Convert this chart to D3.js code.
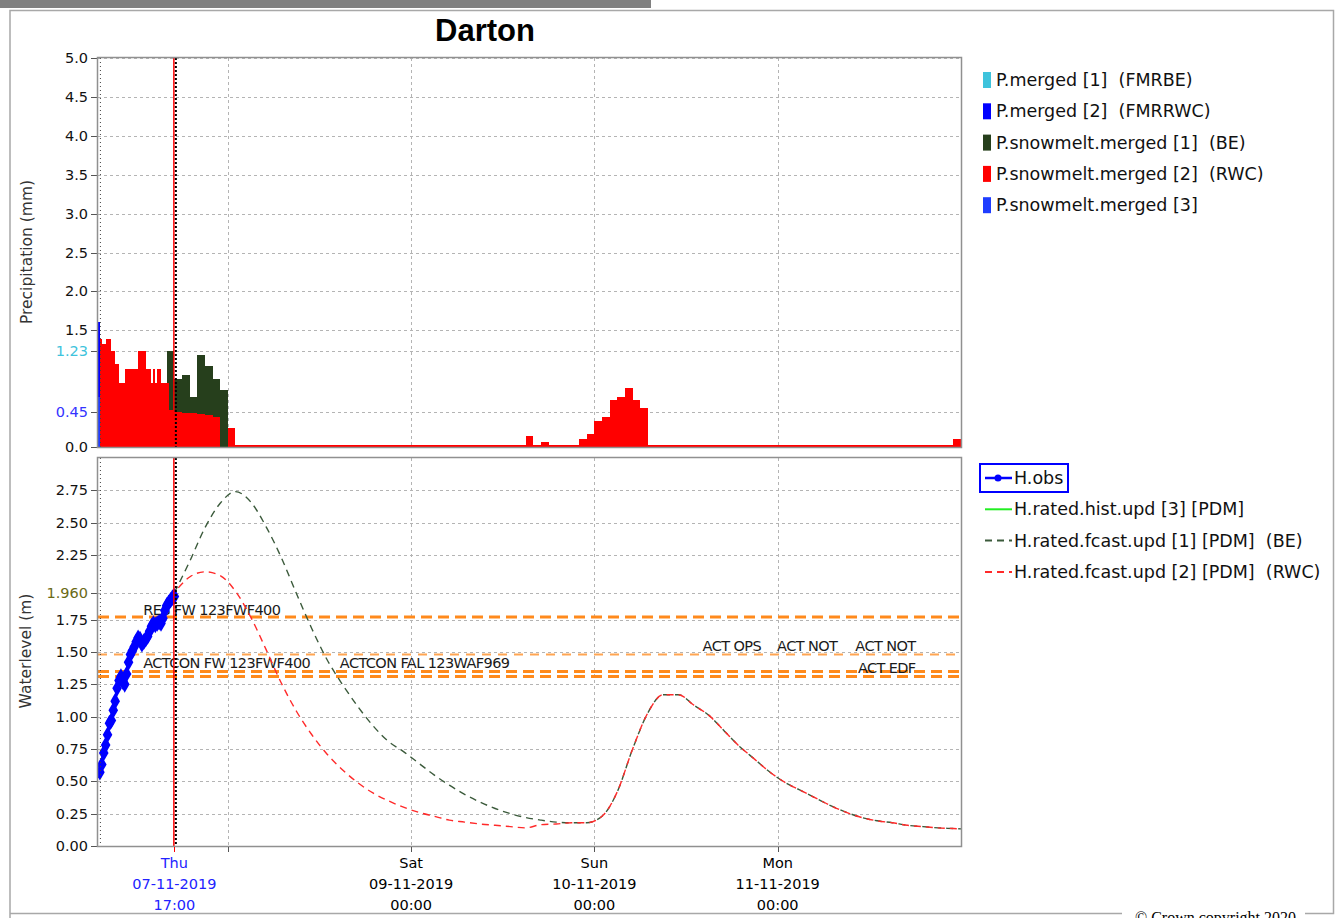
<!DOCTYPE html>
<html>
<head>
<meta charset="utf-8">
<script src="https://cdn.jsdelivr.net/npm/d3@7"></script>
<style>
body { margin: 0; background: #fff; }
svg text { font-family: "DejaVu Sans", sans-serif; white-space: pre; }
</style>
</head>
<body>
<svg id="chart" width="1336" height="918"></svg>
<script>

var startTime = new Date(2019, 10, 7, 7, 0);
var endTime = new Date(2019, 10, 12, 0, 0);
var forecastTime = new Date(2019, 10, 7, 17, 0);

// precipitation (mm), observed part in 15 minute steps from 07:00
var rwcObs = [0, 1.39, 1.33, 1.33, 1.39, 1.39, 1.39, 1.23, 1.23, 1.07,
    1.07, 0.82, 0.82, 0.82, 1.0, 1.0, 1.0, 1.0, 1.0, 1.0,
    1.0, 1.23, 1.23, 1.23, 1.23, 1.0, 1.0, 1.0, 0.82, 1.0,
    0.82, 1.0, 1.0, 0.82, 0.82, 0.82, 0.82, 0.47, 0.47, 0.47];
var merged2Obs = [1.61];
var snow3Obs = [0.64];

// forecast precipitation, hourly
var beHourly = [1.23, 0.87, 0.92, 0.64, 1.18, 1.04, 0.87, 0.73];   // from 16:00 Thu
var rwcHourly = [0.45, 0.44, 0.44, 0.43, 0.41, 0.39, 0, 0.24,      // from 17:00 Thu
    0.02, 0.02, 0.02, 0.02, 0.02, 0.02, 0.02, 0.02, 0.02, 0.02,
    0.02, 0.02, 0.02, 0.02, 0.02, 0.02, 0.02, 0.02, 0.02, 0.02,
    0.02, 0.02, 0.02, 0.02, 0.02, 0.02, 0.02, 0.02, 0.02, 0.02,
    0.02, 0.02, 0.02, 0.02, 0.02, 0.02, 0.02, 0.02,
    0.14, 0.02, 0.06, 0.02, 0.02, 0.02, 0.02,
    0.10, 0.17, 0.33, 0.38, 0.61, 0.64, 0.76, 0.61, 0.50,
    0.02, 0.02, 0.02, 0.02, 0.02, 0.02, 0.02, 0.02, 0.02, 0.02,
    0.02, 0.02, 0.02, 0.02, 0.02, 0.02, 0.02, 0.02, 0.02, 0.02,
    0.02, 0.02, 0.02, 0.02, 0.02, 0.02, 0.02, 0.02, 0.02, 0.02,
    0.02, 0.02, 0.02, 0.02, 0.02, 0.02, 0.02, 0.02, 0.02, 0.02,
    0.10];

// observed water level (m), 15 minute steps from 07:15
var hObs = [0.57, 0.63, 0.72, 0.78, 0.86, 0.95, 0.97, 1.05, 1.12, 1.22,
    1.28, 1.31, 1.27, 1.25, 1.33, 1.42, 1.48, 1.51, 1.54, 1.58,
    1.61, 1.60, 1.56, 1.58, 1.60, 1.62, 1.66, 1.70, 1.72, 1.71,
    1.72, 1.73, 1.72, 1.76, 1.82, 1.86, 1.88, 1.90, 1.92, 1.93];

// forecast water level, every 2 hours from 17:00 Thu
var hBE = [1.96, 2.20, 2.46, 2.65, 2.74, 2.66, 2.47, 2.23, 1.95, 1.68,
    1.44, 1.25, 1.08, 0.93, 0.81, 0.73, 0.64, 0.55, 0.47, 0.40,
    0.34, 0.29, 0.25, 0.22, 0.20, 0.185, 0.18, 0.18, 0.23, 0.42,
    0.75, 1.03, 1.17, 1.17, 1.09, 1.01, 0.89, 0.77, 0.67, 0.57,
    0.49, 0.43, 0.37, 0.31, 0.26, 0.22, 0.195, 0.18, 0.16, 0.15,
    0.14, 0.135, 0.13];
var hRWC = [1.96, 2.08, 2.12, 2.09, 1.97, 1.77, 1.52, 1.26, 1.04, 0.86,
    0.71, 0.59, 0.49, 0.41, 0.35, 0.30, 0.26, 0.23, 0.20, 0.185,
    0.17, 0.16, 0.15, 0.14, 0.165, 0.17, 0.18, 0.18, 0.23, 0.42,
    0.75, 1.03, 1.17, 1.17, 1.09, 1.01, 0.89, 0.77, 0.67, 0.57,
    0.49, 0.43, 0.37, 0.31, 0.26, 0.22, 0.195, 0.18, 0.16, 0.15,
    0.14, 0.135, 0.13];

// thresholds
var thresholds = [
    {value: 1.77, heavy: true},
    {value: 1.48, heavy: false},
    {value: 1.35, heavy: true},
    {value: 1.31, heavy: true}
];
var thresholdLabels = [
    {text: "RES FW 123FWF400", at: new Date(2019, 10, 7, 12, 55), value: 1.785},
    {text: "ACTCON FW 123FWF400", at: new Date(2019, 10, 7, 12, 55), value: 1.38},
    {text: "ACTCON FAL 123WAF969", at: new Date(2019, 10, 8, 14, 40), value: 1.38},
    {text: "ACT OPS", at: new Date(2019, 10, 10, 14, 10), value: 1.505},
    {text: "ACT NOT", at: new Date(2019, 10, 10, 23, 55), value: 1.505},
    {text: "ACT NOT", at: new Date(2019, 10, 11, 10, 10), value: 1.505},
    {text: "ACT EDF", at: new Date(2019, 10, 11, 10, 30), value: 1.335}
];

var precipTicks = [0, 1.5, 2.0, 2.5, 3.0, 3.5, 4.0, 4.5, 5.0];
var precipMarks = [{v: 1.23, c: "#3ec3dc"}, {v: 0.45, c: "#3333ff"}];
var levelTicks = [0, 0.25, 0.5, 0.75, 1.0, 1.25, 1.5, 1.75, 2.25, 2.5, 2.75];
var levelMark = 1.96;

var dayLines = [new Date(2019, 10, 8), new Date(2019, 10, 9), new Date(2019, 10, 10), new Date(2019, 10, 11)];
var dayLabels = [
    {t: forecastTime, lines: ["Thu", "07-11-2019", "17:00"], color: "#2222ff"},
    {t: new Date(2019, 10, 9), lines: ["Sat", "09-11-2019", "00:00"], color: "#000"},
    {t: new Date(2019, 10, 10), lines: ["Sun", "10-11-2019", "00:00"], color: "#000"},
    {t: new Date(2019, 10, 11), lines: ["Mon", "11-11-2019", "00:00"], color: "#000"}
];

var precipLegend = [
    {name: "P.merged [1]  (FMRBE)", color: "#3ec3dc"},
    {name: "P.merged [2]  (FMRRWC)", color: "#0000ff"},
    {name: "P.snowmelt.merged [1]  (BE)", color: "#263f1c"},
    {name: "P.snowmelt.merged [2]  (RWC)", color: "#ff0000"},
    {name: "P.snowmelt.merged [3]", color: "#1f3dff"}
];
var levelLegend = [
    {name: "H.obs", color: "#0000ff", dash: null, marker: true},
    {name: "H.rated.hist.upd [3] [PDM]", color: "#22ee22", dash: null},
    {name: "H.rated.fcast.upd [1] [PDM]  (BE)", color: "#3b5a3b", dash: "7,5"},
    {name: "H.rated.fcast.upd [2] [PDM]  (RWC)", color: "#ff2a2a", dash: "7,5"}
];

function addMinutes(d, m) { return new Date(d.getTime() + m * 60000); }

var svg = d3.select("#chart");
var left = 98, right = 961;

var x = d3.scaleTime().domain([startTime, endTime]).range([left, right]);
var yP = d3.scaleLinear().domain([0, 5]).range([447, 58]);
var yH = d3.scaleLinear().domain([0, 3]).range([846, 458]);

// window frame
svg.append("rect").attr("x", 0).attr("y", 0).attr("width", 651).attr("height", 8).attr("fill", "#808080");
svg.append("path")
    .attr("d", "M10,918 L10,10.5 L1333.5,10.5 L1333.5,913.5 L1305,913.5 M1122,913.5 L10,913.5")
    .attr("fill", "none").attr("stroke", "#a8a8a8").attr("stroke-width", 1.5);

// title
svg.append("text").attr("x", 485).attr("y", 41).attr("text-anchor", "middle")
    .style("font-family", "'Liberation Sans', Arial, sans-serif")
    .style("font-weight", "bold").style("font-size", "31px").text("Darton");

svg.append("defs").selectAll("clipPath")
    .data([["clipP", yP], ["clipH", yH]])
    .enter().append("clipPath").attr("id", function (d) { return d[0]; })
    .append("rect")
    .attr("x", left).attr("width", right - left)
    .attr("y", function (d) { return d[1].range()[1]; })
    .attr("height", function (d) { return d[1].range()[0] - d[1].range()[1]; });

function drawPanel(yScale, ticks, fmt) {
    var g = svg.append("g");
    var y0 = yScale.range()[0], y1 = yScale.range()[1];

    g.selectAll(".hgrid").data(ticks).enter().append("line")
        .attr("x1", left).attr("x2", right)
        .attr("y1", function (d) { return Math.round(yScale(d)) + 0.5; })
        .attr("y2", function (d) { return Math.round(yScale(d)) + 0.5; })
        .attr("stroke", "#b4b4b4").attr("stroke-dasharray", "3,3");

    g.selectAll(".vgrid").data(dayLines).enter().append("line")
        .attr("x1", function (d) { return Math.round(x(d)) + 0.5; })
        .attr("x2", function (d) { return Math.round(x(d)) + 0.5; })
        .attr("y1", y1).attr("y2", y0)
        .attr("stroke", "#b4b4b4").attr("stroke-dasharray", "3,3");

    g.selectAll(".tick").data(ticks).enter().append("line")
        .attr("x1", left - 7).attr("x2", left)
        .attr("y1", function (d) { return Math.round(yScale(d)) + 0.5; })
        .attr("y2", function (d) { return Math.round(yScale(d)) + 0.5; })
        .attr("stroke", "#555");

    g.selectAll(".tlabel").data(ticks).enter().append("text")
        .attr("x", left - 10)
        .attr("y", function (d) { return yScale(d) + 5; })
        .attr("text-anchor", "end").style("font-size", "14.5px").attr("fill", "#111")
        .text(function (d) {
            if (d.color) return d.v.toFixed(d.digits);
            return d3.format(fmt)(d);
        });
    return g;
}

function drawFrame(yScale) {
    var y0 = yScale.range()[0], y1 = yScale.range()[1];
    // first data line, dotted
    svg.append("line")
        .attr("x1", x(addMinutes(startTime, 15)) + 0.5).attr("x2", x(addMinutes(startTime, 15)) + 0.5)
        .attr("y1", y1).attr("y2", y0)
        .attr("stroke", "#444").attr("stroke-dasharray", "1,3");
    // forecast time
    svg.append("line")
        .attr("x1", x(forecastTime) - 0.5).attr("x2", x(forecastTime) - 0.5)
        .attr("y1", y1).attr("y2", y0)
        .attr("stroke", "#ff0000").attr("stroke-width", 1.5);
    svg.append("line")
        .attr("x1", x(forecastTime) + 1.5).attr("x2", x(forecastTime) + 1.5)
        .attr("y1", y1).attr("y2", y0)
        .attr("stroke", "#000").attr("stroke-width", 2).attr("stroke-dasharray", "2,2");
    svg.append("rect")
        .attr("x", left - 0.5).attr("y", y1 - 0.5)
        .attr("width", right - left + 1).attr("height", y0 - y1 + 1)
        .attr("fill", "none").attr("stroke", "#909090").attr("stroke-width", 1.5);
}

function markTick(yScale, v, color, digits) {
    var yy = Math.round(yScale(v)) + 0.5;
    svg.append("line").attr("x1", left).attr("x2", right).attr("y1", yy).attr("y2", yy)
        .attr("stroke", "#b4b4b4").attr("stroke-dasharray", "3,3");
    svg.append("line").attr("x1", left - 7).attr("x2", left).attr("y1", yy).attr("y2", yy)
        .attr("stroke", "#555");
    svg.append("text").attr("x", left - 10).attr("y", yScale(v) + 5)
        .attr("text-anchor", "end").style("font-size", "14.5px").attr("fill", color)
        .text(v.toFixed(digits));
}

// ---------- precipitation panel ----------
drawPanel(yP, precipTicks, ".1f");
precipMarks.forEach(function (m) { markTick(yP, m.v, m.c, 2); });

var gP = svg.append("g").attr("clip-path", "url(#clipP)");

var beBars = beHourly.map(function (v, i) {
    return {t: addMinutes(forecastTime, (i - 1) * 60), len: 60, v: v};
});
var rwcBars = rwcObs.map(function (v, i) {
    return {t: addMinutes(startTime, i * 15), len: 15, v: v};
}).concat(rwcHourly.map(function (v, i) {
    return {t: addMinutes(forecastTime, i * 60), len: 60, v: v};
}));

function bars(data, color) {
    gP.selectAll(null).data(data.filter(function (d) { return d.v > 0; })).enter().append("rect")
        .attr("x", function (d) { return x(d.t); })
        .attr("width", function (d) { return x(addMinutes(d.t, d.len)) - x(d.t); })
        .attr("y", function (d) { return yP(d.v); })
        .attr("height", function (d) { return yP(0) - yP(d.v); })
        .attr("fill", color).attr("shape-rendering", "crispEdges");
}
bars(beBars, "#263f1c");
bars(rwcBars, "#ff0000");
bars(merged2Obs.map(function (v, i) { return {t: addMinutes(startTime, i * 15), len: 12, v: v}; }), "#0000ff");
bars(snow3Obs.map(function (v, i) { return {t: addMinutes(startTime, i * 15), len: 12, v: v}; }), "#1f3dff");

drawFrame(yP);

svg.append("text").attr("transform", "translate(32,252) rotate(-90)")
    .attr("text-anchor", "middle").style("font-size", "15.5px").attr("fill", "#333")
    .text("Precipitation (mm)");

// ---------- water level panel ----------
drawPanel(yH, levelTicks, ".2f");
markTick(yH, levelMark, "#6a6a16", 3);

var gH = svg.append("g").attr("clip-path", "url(#clipH)");

gH.selectAll(".thr").data(thresholds).enter().append("line")
    .attr("x1", left).attr("x2", right)
    .attr("y1", function (d) { return yH(d.value); })
    .attr("y2", function (d) { return yH(d.value); })
    .attr("stroke", function (d) { return d.heavy ? "#ff8a1c" : "#ffa552"; })
    .attr("stroke-width", function (d) { return d.heavy ? 3 : 2; })
    .attr("stroke-dasharray", function (d) { return d.heavy ? "11,6" : "9,7"; });

gH.selectAll(".thrLabel").data(thresholdLabels).enter().append("text")
    .attr("x", function (d) { return x(d.at); })
    .attr("y", function (d) { return yH(d.value); })
    .style("font-size", "14.5px").style("letter-spacing", "-0.6px").attr("fill", "#1a1a1a")
    .text(function (d) { return d.text; });

var fcPoints = function (vals) {
    return vals.map(function (v, i) { return {t: addMinutes(forecastTime, i * 120), v: v}; });
};
var line = d3.line()
    .x(function (d) { return x(d.t); })
    .y(function (d) { return yH(d.v); })
    .curve(d3.curveMonotoneX);

gH.append("path").datum(fcPoints(hBE)).attr("d", line)
    .attr("fill", "none").attr("stroke", "#3b5a3b").attr("stroke-width", 1.4)
    .attr("stroke-dasharray", "7,5");
gH.append("path").datum(fcPoints(hRWC)).attr("d", line)
    .attr("fill", "none").attr("stroke", "#ff2a2a").attr("stroke-width", 1.4)
    .attr("stroke-dasharray", "7,5").attr("stroke-dashoffset", 6);

var obsPts = hObs.map(function (v, i) { return {t: addMinutes(startTime, (i + 1) * 15), v: v}; });
gH.append("path").datum(obsPts)
    .attr("d", d3.line().x(function (d) { return x(d.t); }).y(function (d) { return yH(d.v); }))
    .attr("fill", "none").attr("stroke", "#0000ff").attr("stroke-width", 2.5);
gH.selectAll(".obs").data(obsPts).enter().append("path")
    .attr("transform", function (d) { return "translate(" + x(d.t) + "," + yH(d.v) + ")"; })
    .attr("d", d3.symbol().type(d3.symbolDiamond).size(80))
    .attr("fill", "#0000ff");

drawFrame(yH);

svg.append("text").attr("transform", "translate(31,651) rotate(-90)")
    .attr("text-anchor", "middle").style("font-size", "15.5px").attr("fill", "#333")
    .text("Waterlevel (m)");

// x axis
svg.selectAll(".xtick").data(dayLines.concat([forecastTime])).enter().append("line")
    .attr("x1", function (d) { return Math.round(x(d)) + 0.5; })
    .attr("x2", function (d) { return Math.round(x(d)) + 0.5; })
    .attr("y1", 847).attr("y2", 852)
    .attr("stroke", function (d) { return d === forecastTime ? "#ff0000" : "#555"; });

var xl = svg.selectAll(".xlab").data(dayLabels).enter().append("text")
    .attr("text-anchor", "middle").style("font-size", "14.5px")
    .attr("fill", function (d) { return d.color; });
xl.selectAll("tspan").data(function (d) {
    return d.lines.map(function (s, i) { return {s: s, i: i, t: d.t}; });
}).enter().append("tspan")
    .attr("x", function (d) { return x(d.t); })
    .attr("y", function (d) { return 868 + d.i * 21; })
    .text(function (d) { return d.s; });

// legends
var lp = svg.selectAll(".lp").data(precipLegend).enter().append("g")
    .attr("transform", function (d, i) { return "translate(983," + (80 + i * 31.3) + ")"; });
lp.append("rect").attr("x", 0).attr("y", -8).attr("width", 8).attr("height", 16)
    .attr("fill", function (d) { return d.color; });
lp.append("text").attr("x", 13).attr("y", 6).style("font-size", "17.5px").attr("fill", "#111")
    .text(function (d) { return d.name; });

svg.append("rect").attr("x", 980).attr("y", 464).attr("width", 88).attr("height", 28)
    .attr("fill", "none").attr("stroke", "#0000ff").attr("stroke-width", 2);
var lh = svg.selectAll(".lh").data(levelLegend).enter().append("g")
    .attr("transform", function (d, i) { return "translate(985," + (478 + i * 31.3) + ")"; });
lh.append("line").attr("x1", 0).attr("x2", 27).attr("y1", 0).attr("y2", 0)
    .attr("stroke", function (d) { return d.color; })
    .attr("stroke-width", function (d) { return d.marker ? 2.5 : 2; })
    .attr("stroke-dasharray", function (d) { return d.dash; });
lh.filter(function (d) { return d.marker; }).append("circle")
    .attr("cx", 13).attr("cy", 0).attr("r", 3.5).attr("fill", "#0000ff");
lh.append("text").attr("x", 29).attr("y", 6).style("font-size", "17.5px").attr("fill", "#111")
    .text(function (d) { return d.name; });

svg.append("text").attr("x", 1135).attr("y", 923)
    .style("font-family", "'Liberation Serif', serif").style("font-size", "16px")
    .text("\u00a9 Crown copyright 2020");

</script>
</body>
</html>
